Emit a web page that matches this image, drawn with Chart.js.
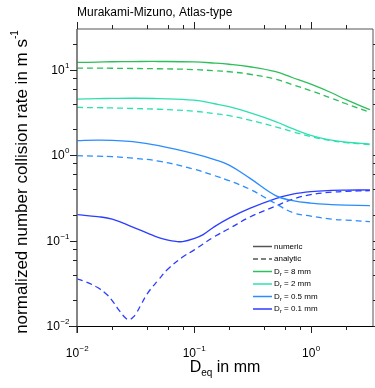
<!DOCTYPE html>
<html>
<head>
<meta charset="utf-8">
<script src="https://cdn.jsdelivr.net/npm/chart.js@4"></script>
<style>
html,body{margin:0;padding:0;background:#fff;}
#wrap{width:375px;height:388px;position:relative;}
</style>
</head>
<body>
<div id="wrap"><canvas id="c" width="375" height="388"></canvas></div>
<script>
// ---- data ----
const titleText = "Murakami-Mizuno, Atlas-type";
const dCommon = [0.01, 0.015, 0.02, 0.03, 0.05, 0.1, 0.15, 0.2, 0.3, 0.5, 0.7, 1, 1.5, 2, 3.2];
const green8Numeric  = [12.17, 12.3, 12.41, 12.47, 12.5, 12.35, 11.97, 11.6, 10.84, 9.48, 8.06, 6.77, 5.38, 4.46, 3.41];
const green8Analytic = [10.47, 10.44, 10.41, 10.35, 10.27, 10.05, 9.73, 9.48, 8.86, 7.74, 6.68, 5.68, 4.64, 4.00, 3.17];
const teal2Numeric   = [4.54, 4.59, 4.62, 4.64, 4.60, 4.40, 4.00, 3.69, 3.14, 2.47, 2.04, 1.71, 1.50, 1.42, 1.35];
const teal2Analytic  = [3.62, 3.60, 3.57, 3.52, 3.45, 3.27, 3.06, 2.90, 2.57, 2.15, 1.88, 1.65, 1.48, 1.40, 1.33];
const blue05Numeric  = [1.48, 1.50, 1.49, 1.44, 1.29, 1.04, 0.886, 0.764, 0.538, 0.336, 0.294, 0.275, 0.264, 0.260, 0.257];
const blue05Analytic = [0.987, 0.972, 0.960, 0.922, 0.851, 0.686, 0.576, 0.503, 0.400, 0.271, 0.2126, 0.1934, 0.1784, 0.1738, 0.1668];
const dBlue01Numeric = [0.01, 0.015, 0.02, 0.03, 0.04, 0.05, 0.06, 0.07, 0.08, 0.1, 0.12, 0.15, 0.2, 0.3, 0.5, 0.7, 1, 1.5, 2, 3.2];
const blue01Numeric  = [0.2014, 0.1909, 0.1784, 0.1438, 0.1224, 0.1084, 0.1013, 0.0979, 0.0973, 0.1055, 0.1175, 0.1458, 0.1834, 0.2379, 0.310, 0.350, 0.374, 0.3865, 0.3897, 0.3917];
const dBlue01Analytic = [0.01, 0.012, 0.015, 0.018, 0.02, 0.022, 0.025, 0.027, 0.028, 0.03, 0.032, 0.035, 0.04, 0.05, 0.06, 0.08, 0.1, 0.15, 0.2, 0.3, 0.5, 0.7, 1, 1.5, 2, 3.2];
const blue01Analytic = [0.0356, 0.0327, 0.0282, 0.02335, 0.01987, 0.01646, 0.01309, 0.01191, 0.01181, 0.01257, 0.0140, 0.01738, 0.0240, 0.0350, 0.0464, 0.0641, 0.0774, 0.1114, 0.1381, 0.1883, 0.2532, 0.3058, 0.345, 0.369, 0.377, 0.3844];
const legendDiameters = ["8 mm", "2 mm", "0.5 mm", "0.1 mm"];
const xTickExponents = [-2, -1, 0];
const yTickExponents = [-2, -1, 0, 1];

const colors = ["#2cbf5a", "#2ee0b0", "#2a8cff", "#2b3dff"];

function pts(xs, ys){ return xs.map((x,i)=>({x:x, y:ys[i]})); }
function ds(xs, ys, color, dashed){
  return {data: pts(xs, ys), borderColor: color, borderWidth: 1.3, pointRadius: 0,
    borderDash: dashed ? [6,4] : [], tension: 0.4, fill:false};
}
const datasets = [
  ds(dCommon, green8Numeric, colors[0], false),
  ds(dCommon, green8Analytic, colors[0], true),
  ds(dCommon, teal2Numeric, colors[1], false),
  ds(dCommon, teal2Analytic, colors[1], true),
  ds(dCommon, blue05Numeric, colors[2], false),
  ds(dCommon, blue05Analytic, colors[2], true),
  ds(dBlue01Numeric, blue01Numeric, colors[3], false),
  ds(dBlue01Analytic, blue01Analytic, colors[3], true)
];

const FONT = '"Liberation Sans", Arial, Helvetica, sans-serif';

function drawPow(ctx, x, y, exp, align){
  const base = '10', sup = String(exp).replace('-', '\u2212');
  ctx.font = '12px ' + FONT;
  const wb = ctx.measureText(base).width;
  ctx.font = '8px ' + FONT;
  const ws = ctx.measureText(sup).width;
  const total = wb + ws;
  let x0 = align === 'right' ? x - total : x - total/2;
  ctx.textBaseline = 'middle';
  ctx.textAlign = 'left';
  ctx.font = '12px ' + FONT;
  ctx.fillText(base, x0, y);
  ctx.font = '8px ' + FONT;
  ctx.fillText(sup, x0 + wb + 0.5, y - 5);
}

const decor = {
  id: 'decor',
  afterDraw(chart){
    const ctx = chart.ctx, a = chart.chartArea;
    const xs = chart.scales.x, ys = chart.scales.y;
    ctx.save();
    // frame
    ctx.strokeStyle = '#555';
    ctx.lineWidth = 1;
    ctx.beginPath();
    ctx.moveTo(a.left, a.top); ctx.lineTo(a.right, a.top); ctx.lineTo(a.right, a.bottom);
    ctx.stroke();
    ctx.strokeStyle = '#666'; ctx.lineWidth = 1.6;
    ctx.beginPath(); ctx.moveTo(a.left, a.top); ctx.lineTo(a.left, a.bottom + 7); ctx.stroke();
    ctx.strokeStyle = '#000'; ctx.lineWidth = 1;
    ctx.beginPath(); ctx.moveTo(a.left - 8, a.bottom + 0.5); ctx.lineTo(a.right, a.bottom + 0.5); ctx.stroke();

    // ticks
    ctx.strokeStyle = '#222'; ctx.lineWidth = 1;
    const minorMult = [2,4,6,8];
    function xTick(v, len){
      const px = Math.round(xs.getPixelForValue(v)) + 0.5;
      ctx.beginPath(); ctx.moveTo(px, a.bottom); ctx.lineTo(px, a.bottom + len); ctx.stroke();
      ctx.beginPath(); ctx.moveTo(px, a.top); ctx.lineTo(px, a.top - len); ctx.stroke();
    }
    function yTick(v, len){
      const py = Math.round(ys.getPixelForValue(v)) + 0.5;
      ctx.beginPath(); ctx.moveTo(a.left, py); ctx.lineTo(a.left - len, py); ctx.stroke();
      ctx.beginPath(); ctx.moveTo(a.right, py); ctx.lineTo(a.right + len, py); ctx.stroke();
    }
    for (let e = -2; e <= 0; e++){
      const b = Math.pow(10, e);
      xTick(b, 7);
      minorMult.forEach(m => { const v = m*b; if (v <= xs.max) xTick(v, 4); });
    }
    for (let e = -2; e <= 1; e++){
      const b = Math.pow(10, e);
      yTick(b, 7);
      minorMult.forEach(m => { const v = m*b; if (v <= ys.max) yTick(v, 4); });
    }

    // tick labels
    ctx.fillStyle = '#000';
    xTickExponents.forEach(e => drawPow(ctx, xs.getPixelForValue(Math.pow(10,e)), 354, e, 'center'));
    yTickExponents.forEach(e => drawPow(ctx, 69, ys.getPixelForValue(Math.pow(10,e)) + 1, e, 'right'));

    // title
    ctx.font = '12px ' + FONT; ctx.textAlign = 'left'; ctx.textBaseline = 'middle';
    ctx.fillText(titleText, a.left, 13);

    // x axis title: D_eq in mm
    ctx.font = '16px ' + FONT;
    const wD = ctx.measureText('D').width, wIn = ctx.measureText(' in mm').width;
    ctx.font = '10px ' + FONT;
    const wEq = ctx.measureText('eq').width;
    let tx = (a.left + a.right)/2 - (wD + wEq + wIn)/2;
    const ty = 368;
    ctx.font = '16px ' + FONT; ctx.fillText('D', tx, ty);
    ctx.font = '10px ' + FONT; ctx.fillText('eq', tx + wD, ty + 5);
    ctx.font = '16px ' + FONT; ctx.fillText(' in mm', tx + wD + wEq, ty);

    // y axis title
    ctx.save();
    ctx.translate(22, 182);
    ctx.rotate(-Math.PI/2);
    ctx.font = '17px ' + FONT;
    const yMain = 'normalized number collision rate in m s';
    const wM = ctx.measureText(yMain).width;
    ctx.font = '10px ' + FONT;
    const wS = ctx.measureText('-1').width;
    const sx = -(wM + wS)/2;
    ctx.font = '17px ' + FONT; ctx.fillText(yMain, sx, 0);
    ctx.font = '10px ' + FONT; ctx.fillText('-1', sx + wM, -7);
    ctx.restore();

    // legend
    const lx0 = 253, lx1 = 272, tx0 = 274;
    const rows = [246.5, 259, 271.5, 284, 296.5, 309];
    ctx.lineWidth = 1.5;
    ctx.font = '8px ' + FONT; ctx.textBaseline = 'middle';
    function legLine(y, color, dashed){
      ctx.strokeStyle = color; ctx.setLineDash(dashed ? [5,3] : []);
      ctx.beginPath(); ctx.moveTo(lx0, y); ctx.lineTo(lx1, y); ctx.stroke();
      ctx.setLineDash([]);
    }
    legLine(rows[0], '#555', false); ctx.fillStyle = '#000'; ctx.fillText('numeric', tx0, rows[0]);
    legLine(rows[1], '#555', true); ctx.fillText('analytic', tx0, rows[1]);
    legendDiameters.forEach((d, i) => {
      const y = rows[i+2];
      legLine(y, colors[i], false);
      ctx.fillStyle = '#000';
      ctx.font = '8px ' + FONT; ctx.fillText('D', tx0, y);
      const w = ctx.measureText('D').width;
      ctx.font = '6px ' + FONT; ctx.fillText('r', tx0 + w, y + 2.5);
      const w2 = ctx.measureText('r').width;
      ctx.font = '8px ' + FONT; ctx.fillText(' = ' + d, tx0 + w + w2, y);
    });
    ctx.restore();
  }
};

new Chart(document.getElementById('c'), {
  type: 'line',
  data: { datasets: datasets },
  options: {
    responsive: false,
    animation: false,
    devicePixelRatio: 1,
    layout: { padding: { top: 29, right: 2, left: 0, bottom: 0 } },
    plugins: { legend: { display: false }, tooltip: { enabled: false }, title: { display: false } },
    scales: {
      x: { type: 'logarithmic', min: 0.01, max: 3.4,
           grid: { display: false, drawTicks: false }, border: { display: false },
           ticks: { display: false }, afterFit(s){ s.height = 62; } },
      y: { type: 'logarithmic', min: 0.01, max: 30,
           grid: { display: false, drawTicks: false }, border: { display: false },
           ticks: { display: false }, afterFit(s){ s.width = 77; } }
    }
  },
  plugins: [decor]
});
</script>
</body>
</html>
